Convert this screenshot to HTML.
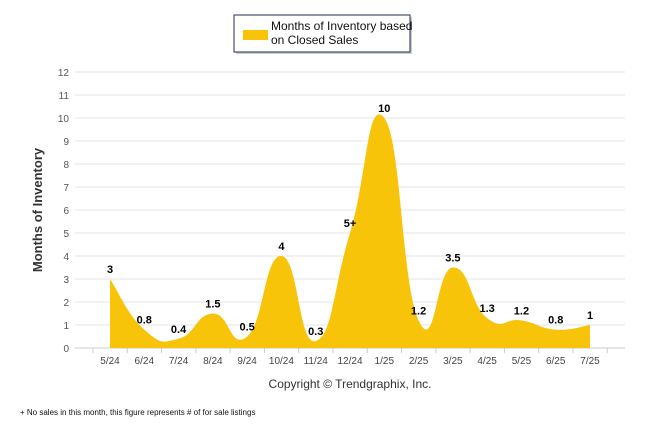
<!DOCTYPE html>
<html><head><meta charset="utf-8"><style>
body{margin:0;background:#fff;font-family:"Liberation Sans",sans-serif}
</style></head><body>
<svg id="c" width="646" height="434" xmlns="http://www.w3.org/2000/svg" font-family="Liberation Sans, sans-serif">
<g>
<rect x="236" y="17" width="176" height="37" fill="#999" opacity="0.5"/>
<rect x="234" y="15" width="176" height="37" fill="#fff" stroke="#1f2d4f" stroke-width="1"/>
<rect x="243" y="30" width="25" height="10" fill="#f8c40a"/>
<text x="271" y="30" font-size="12" fill="#111">Months of Inventory based</text>
<text x="271" y="44" font-size="12" fill="#111">on Closed Sales</text>
</g>
<g id="grid"></g><g id="area"></g><g id="labels"></g>
<text transform="translate(42,210) rotate(-90)" text-anchor="middle" font-size="13" font-weight="bold" fill="#333">Months of Inventory</text>
<text x="350" y="388" text-anchor="middle" font-size="12" fill="#333">Copyright © Trendgraphix, Inc.</text>
<text x="20" y="415" font-size="8" fill="#111">+ No sales in this month, this figure represents # of for sale listings</text>
</svg>
<script>
const categories=["5/24","6/24","7/24","8/24","9/24","10/24","11/24","12/24","1/25","2/25","3/25","4/25","5/25","6/25","7/25"];
const values=[3,0.8,0.4,1.5,0.5,4,0.3,5,10,1.2,3.5,1.3,1.2,0.8,1];
const valueLabels=["3","0.8","0.4","1.5","0.5","4","0.3","5+","10","1.2","3.5","1.3","1.2","0.8","1"];
const yTicks=[0,1,2,3,4,5,6,7,8,9,10,11,12];
const NS="http://www.w3.org/2000/svg";
const x=i=>110+i*(480/14), y=v=>348-v*23;
function mk(t,a,p){const e=document.createElementNS(NS,t);for(const k in a)e.setAttribute(k,a[k]);p.appendChild(e);return e;}
const g=document.getElementById('grid');
yTicks.forEach(t=>{
 const l=mk('line',{x1:75,x2:625,y1:y(t),y2:y(t),stroke:t?'#e6e6e6':'#ccc','stroke-width':1},g);
 
 
 const tx=mk('text',{x:69,y:y(t)+4,'text-anchor':'end','font-size':10,fill:'#555'},g);tx.textContent=t;
 
 
});
for(let i=0;i<=categories.length;i++){mk('line',{x1:x(i)-17,x2:x(i)-17,y1:348,y2:353,stroke:'#ccc'},g);}
categories.forEach((c,i)=>{const t=mk('text',{x:x(i),y:364,'text-anchor':'middle','font-size':10,fill:'#444'},g);t.textContent=c;
 
 });
const pts=values.map((v,i)=>[x(i),y(v)]);
let d=`M${pts[0][0]},348 L${pts[0][0]},${pts[0][1]}`;
const k=0.3;
for(let i=0;i<pts.length-1;i++){
 const p0=pts[Math.max(0,i-1)],p1=pts[i],p2=pts[i+1],p3=pts[Math.min(pts.length-1,i+2)];
 const c1=[p1[0]+(p2[0]-p0[0])*k/1.2,p1[1]+(p2[1]-p0[1])*k/1.2];
 const c2=[p2[0]-(p3[0]-p1[0])*k/1.2,p2[1]-(p3[1]-p1[1])*k/1.2];
 d+=` C${c1[0]},${c1[1]} ${c2[0]},${c2[1]} ${p2[0]},${p2[1]}`;
}
d+=` L${pts[pts.length-1][0]},348 Z`;
const a=mk('path',{d:d,fill:'#f8c40a'},document.getElementById('area'));


const L=document.getElementById('labels');
values.forEach((v,i)=>{const t=mk('text',{x:x(i),y:y(v)-6,'text-anchor':'middle','font-size':11,'font-weight':'bold',fill:'#000'},L);t.textContent=valueLabels[i];
 
 });
</script>
</body></html>
